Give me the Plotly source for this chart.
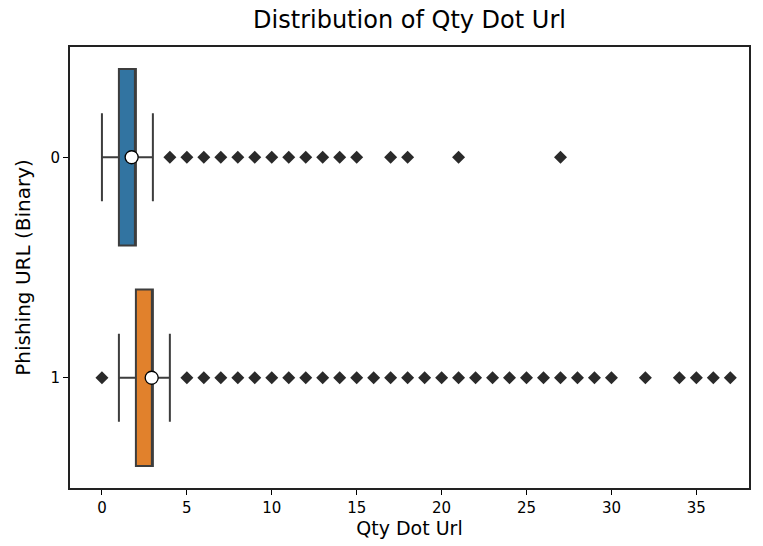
import plotly.graph_objects as go

# Box statistics per class of "Phishing URL (Binary)"
classes = [0, 1]
q1 = [1, 2]
median = [2, 3]
q3 = [2, 3]
lower_fence = [0, 1]
upper_fence = [3, 4]
means = [1.75, 2.93]
box_colors = ["#3274a1", "#e1812c"]

# Outlying "Qty Dot Url" values per class
outliers_0 = [4, 5, 6, 7, 8, 9, 10, 11, 12, 13, 14, 15, 17, 18, 21, 27]
outliers_1 = [0, 5, 6, 7, 8, 9, 10, 11, 12, 13, 14, 15, 16, 17, 18, 19, 20,
              21, 22, 23, 24, 25, 26, 27, 28, 29, 30, 32, 34, 35, 36, 37]
outliers = [outliers_0, outliers_1]

edge = "#3d3d3d"
fig = go.Figure()

for i, c in enumerate(classes):
    fig.add_trace(go.Box(
        orientation="h",
        y=[c],
        q1=[q1[i]], median=[median[i]], q3=[q3[i]],
        lowerfence=[lower_fence[i]], upperfence=[upper_fence[i]],
        width=0.8,
        whiskerwidth=0.5,
        fillcolor=box_colors[i],
        line=dict(color=edge, width=2),
        boxpoints=False,
        showlegend=False,
        hoverinfo="skip",
    ))
    fig.add_trace(go.Scatter(
        x=outliers[i], y=[c] * len(outliers[i]),
        mode="markers",
        marker=dict(symbol="diamond", size=10, color="#2a2a2a",
                    line=dict(width=0)),
        showlegend=False,
    ))
    fig.add_trace(go.Scatter(
        x=[means[i]], y=[c],
        mode="markers",
        marker=dict(symbol="circle", size=13, color="white",
                    line=dict(color="black", width=1.3)),
        showlegend=False,
    ))

font = "DejaVu Sans"
fig.update_layout(
    width=763, height=546,
    margin=dict(l=70, r=13, t=47, b=54),
    plot_bgcolor="white", paper_bgcolor="white",
    font=dict(family=font, size=15, color="black"),
    title=dict(text="Distribution of Qty Dot Url", x=0.5, xref="paper",
               xanchor="center", y=0.965, yanchor="middle",
               font=dict(family=font, size=24, color="black")),
    xaxis=dict(
        range=[-1.88, 38.1],
        tickvals=[0, 5, 10, 15, 20, 25, 30, 35],
        ticks="outside", ticklen=5, tickwidth=1.3, tickcolor="black",
        showgrid=False, zeroline=False,
        showline=True, linecolor="#222222", linewidth=2, mirror=True,
        title=dict(text="Qty Dot Url", font=dict(family=font, size=19),
                   standoff=4),
        tickfont=dict(family=font, size=15),
    ),
    yaxis=dict(
        range=[1.5, -0.5],
        tickvals=classes, ticktext=[str(c) for c in classes],
        ticks="outside", ticklen=5, tickwidth=1.3, tickcolor="black",
        showgrid=False, zeroline=False,
        showline=True, linecolor="#222222", linewidth=2, mirror=True,
        title=dict(text="Phishing URL (Binary)", font=dict(family=font, size=20),
                   standoff=14),
        tickfont=dict(family=font, size=15),
    ),
)

fig.write_html("out.html")
